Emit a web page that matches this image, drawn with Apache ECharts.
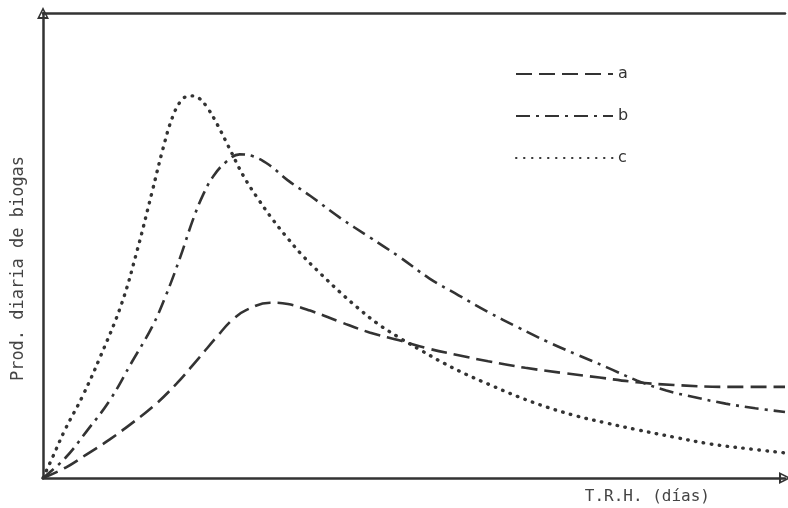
<!DOCTYPE html>
<html>
<head>
<meta charset="utf-8">
<script src="https://cdn.jsdelivr.net/npm/echarts@6/dist/echarts.min.js"></script>
<style>html,body{margin:0;padding:0;background:#fff}#c{width:788px;height:508px}</style>
</head>
<body>
<div id="c"></div>
<script>
// Series names
var seriesNames = ['a', 'b', 'c'];
// Curve a (dashed): [T.R.H., production]
var seriesA = [[0,0],[3,2.2],[6,5.2],[9,8.3],[12,11.8],[15,15.6],[18,20.3],[21,25.8],[23.5,30.5],[25.5,34],[27.5,36.2],[30.6,37.7],[33,37.4],[36,36],[40,33.6],[44,31.3],[48,29.6],[52,27.8],[56,26.4],[60,25.1],[65,23.7],[70,22.6],[75,21.6],[80,20.6],[85,20],[92,19.6],[100,19.6]];
// Curve b (dash-dot)
var seriesB = [[0,0],[3,4.3],[6,10.3],[9,16.7],[12,25],[14.7,32.5],[16.5,39],[18.5,47.5],[20.2,55.5],[21.6,61],[23,65],[24.7,68],[26.5,69.6],[28.3,69.2],[30.5,67.3],[33,64],[36,60.7],[40,56],[44,51.8],[48,47.6],[52,43],[56,39.3],[60,35.7],[64,32.4],[68,29.3],[72,26.5],[76,23.8],[80,21],[84,18.8],[88,17.3],[92,16],[96,15],[100,14.2]];
// Curve c (dotted)
var seriesC = [[0,0],[1.3,4.5],[3,10.5],[5.3,17.5],[7.7,26],[10.6,37.5],[12.7,49],[14.7,61.5],[16.2,71],[17.5,77.8],[18.7,81.3],[19.8,82.2],[21,81.7],[22.2,79.5],[23.5,76],[25,71.3],[27,65],[29,60],[31,55.5],[33,51.5],[35,47.8],[37.5,43.8],[40,40],[42.5,36.5],[45,33.3],[48,30.2],[51,27.4],[54,24.7],[57,22.3],[60,20.2],[64,17.5],[68,15.2],[72,13.3],[76,11.8],[80,10.4],[85,8.8],[90,7.3],[95,6.3],[100,5.4]];
var xName = 'T.R.H. (días)';
var yName = 'Prod. diaria de biogas';

var ink = '#333';
var labelFont = 'DejaVu Sans Mono';
var arrowPath = 'path://M0,0 L10,20 L-10,20 Z M0,6 L-5.5,16.5 L5.5,16.5 Z';
var chart = echarts.init(document.getElementById('c'));
chart.setOption({
  backgroundColor: '#fff',
  animation: false,
  grid: {left: 43, right: 3, top: 13, bottom: 30, outerBoundsMode: 'none', containLabel: false},
  legend: {
    orient: 'vertical', left: 510, top: 61,
    itemWidth: 97, itemHeight: 14, itemGap: 26,
    itemStyle: {opacity: 0},
    textStyle: {fontFamily: 'DejaVu Sans', fontSize: 16, color: '#333'},
    data: seriesNames
  },
  xAxis: [{
    type: 'value', min: 0, max: 100,
    name: xName, nameLocation: 'end', nameGap: -75,
    nameTextStyle: {align: 'right', verticalAlign: 'top', padding: [11, 0, 0, 0], fontFamily: labelFont, fontSize: 16, color: '#444'},
    axisLine: {show: true, lineStyle: {color: ink, width: 2.5}, symbol: ['none', arrowPath], symbolSize: [12, 18]},
    axisTick: {show: false}, axisLabel: {show: false}, splitLine: {show: false}
  }, {
    type: 'value', min: 0, max: 100, position: 'top',
    axisLine: {show: true, lineStyle: {color: ink, width: 2.5}},
    axisTick: {show: false}, axisLabel: {show: false}, splitLine: {show: false}
  }],
  yAxis: {
    type: 'value', min: 0, max: 100,
    name: yName, nameLocation: 'middle', nameGap: 16,
    nameTextStyle: {fontFamily: labelFont, fontSize: 17, color: '#444', padding: [0, 0, 0, -46]},
    axisLine: {show: true, lineStyle: {color: ink, width: 2.5}, symbol: ['none', arrowPath], symbolSize: [12, 18]},
    axisTick: {show: false}, axisLabel: {show: false}, splitLine: {show: false}
  },
  series: [
    {name: 'a', type: 'line', data: seriesA, smooth: 0.4, symbol: 'none', lineStyle: {color: ink, width: 2.6, type: [16, 7], cap: 'butt'}, itemStyle: {color: ink}},
    {name: 'b', type: 'line', data: seriesB, smooth: 0.4, symbol: 'none', lineStyle: {color: ink, width: 2.6, type: [14, 6, 3, 6], cap: 'butt'}, itemStyle: {color: ink}},
    {name: 'c', type: 'line', data: seriesC, smooth: 0.4, symbol: 'none', lineStyle: {color: ink, width: 3.4, type: [0.5, 7.5], cap: 'round'}, itemStyle: {color: ink}}
  ]
});
</script>
</body>
</html>
